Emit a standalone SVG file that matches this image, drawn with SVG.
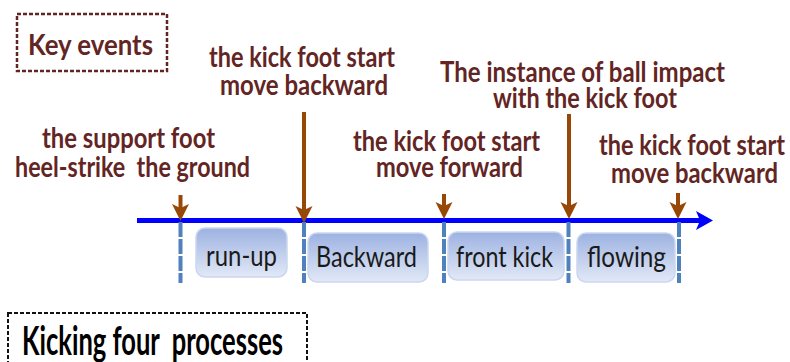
<svg xmlns="http://www.w3.org/2000/svg" width="790" height="362" viewBox="0 0 790 362">
<defs>
<linearGradient id="boxg" x1="0" y1="0" x2="0" y2="1">
<stop offset="0" stop-color="#9db2e1"/>
<stop offset="1" stop-color="#e2e9f7"/>
</linearGradient>
<style>
.lbl{font-family:Lato,"Liberation Sans",sans-serif;font-weight:bold;font-size:29px;fill:#632523;}
.box{fill:url(#boxg);stroke:#cbd7f1;stroke-width:1.5;}
.btxt{font-family:Lato,"Liberation Sans",sans-serif;font-size:29px;fill:#1a1a1a;}
.tick{stroke:#4f81bd;stroke-width:4;stroke-dasharray:15 2;fill:none;}
.arr{stroke:#974806;stroke-width:4;fill:none;}
.head{fill:#974806;}
</style>
</defs>
<rect width="790" height="362" fill="#ffffff"/>

<g id="key-events">
<rect x="17" y="14" width="150" height="57" fill="none" stroke="#632523" stroke-width="2.5" stroke-dasharray="4 2"/>
<text class="lbl" x="28" y="55" font-size="32" textLength="125" lengthAdjust="spacingAndGlyphs">Key events</text>
</g>

<g id="kicking-processes">
<rect x="8" y="313" width="299" height="60" fill="none" stroke="#111111" stroke-width="2" stroke-dasharray="4 2"/>
<text x="22" y="355" xml:space="preserve" font-family="Lato, 'Liberation Sans', sans-serif" font-weight="bold" font-size="40" fill="#000000" textLength="261" lengthAdjust="spacingAndGlyphs">Kicking four  processes</text>
</g>

<g id="connectors">
<line x1="137" y1="220.5" x2="702" y2="220.5" stroke="#0000ff" stroke-width="5"/>
<path d="M696,211 L713,220.5 L696,230 L700,220.5 Z" fill="#0000ff"/>
<line class="tick" x1="180.5" y1="222" x2="180.5" y2="283"/>
<line class="tick" x1="304" y1="222" x2="304" y2="283"/>
<line class="tick" x1="444" y1="222" x2="444" y2="283"/>
<line class="tick" x1="568.5" y1="222" x2="568.5" y2="283"/>
<line class="tick" x1="679" y1="222" x2="679" y2="283"/>
<line class="arr" x1="180.5" y1="195" x2="180.5" y2="208"/>
<path class="head" d="M172,204 L180.5,208 L189,204 L180.5,221 Z"/>
<line class="arr" x1="304" y1="112" x2="304" y2="210"/>
<path class="head" d="M295.5,206 L304,210 L312.5,206 L304,223 Z"/>
<line class="arr" x1="444" y1="194" x2="444" y2="206"/>
<path class="head" d="M435.5,202 L444,206 L452.5,202 L444,219 Z"/>
<line class="arr" x1="569" y1="114" x2="569" y2="206"/>
<path class="head" d="M560.5,202 L569,206 L577.5,202 L569,219 Z"/>
<line class="arr" x1="678" y1="193" x2="678" y2="206"/>
<path class="head" d="M669.5,202 L678,206 L686.5,202 L678,219 Z"/>
</g>

<g id="label-heel-strike">
<text class="lbl" x="42" y="148" textLength="173" lengthAdjust="spacingAndGlyphs">the support foot</text>
<text class="lbl" x="15" y="177" xml:space="preserve" textLength="235" lengthAdjust="spacingAndGlyphs">heel-strike  the ground</text>
</g>
<g id="label-backward-start">
<text class="lbl" x="209" y="67" textLength="186" lengthAdjust="spacingAndGlyphs">the kick foot start</text>
<text class="lbl" x="220" y="95" textLength="168" lengthAdjust="spacingAndGlyphs">move backward</text>
</g>
<g id="label-forward-start">
<text class="lbl" x="353" y="151" textLength="187" lengthAdjust="spacingAndGlyphs">the kick foot start</text>
<text class="lbl" x="376" y="177" textLength="147" lengthAdjust="spacingAndGlyphs">move forward</text>
</g>
<g id="label-impact">
<text class="lbl" x="440" y="82" textLength="285" lengthAdjust="spacingAndGlyphs">The instance of ball impact</text>
<text class="lbl" x="493" y="108" textLength="184" lengthAdjust="spacingAndGlyphs">with the kick foot</text>
</g>
<g id="label-backward-end">
<text class="lbl" x="599" y="155" textLength="186" lengthAdjust="spacingAndGlyphs">the kick foot start</text>
<text class="lbl" x="611" y="183" textLength="167" lengthAdjust="spacingAndGlyphs">move backward</text>
</g>

<g id="phase-run-up">
<rect class="box" x="196" y="228" width="91" height="49" rx="9"/>
<text class="btxt" x="206" y="266" textLength="71" lengthAdjust="spacingAndGlyphs">run-up</text>
</g>
<g id="phase-backward">
<rect class="box" x="308" y="233" width="120" height="49" rx="9"/>
<text class="btxt" x="316" y="267" textLength="101" lengthAdjust="spacingAndGlyphs">Backward</text>
</g>
<g id="phase-front-kick">
<rect class="box" x="448" y="232" width="116" height="48" rx="9"/>
<text class="btxt" x="456" y="267" textLength="97" lengthAdjust="spacingAndGlyphs">front kick</text>
</g>
<g id="phase-flowing">
<rect class="box" x="577" y="233" width="98" height="49" rx="9"/>
<text class="btxt" x="587" y="267" textLength="79" lengthAdjust="spacingAndGlyphs">flowing</text>
</g>
</svg>
